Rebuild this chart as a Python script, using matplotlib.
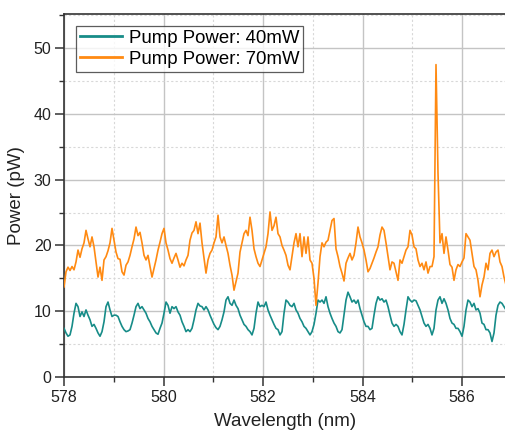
import numpy as np
import matplotlib
matplotlib.use("Agg")
import matplotlib.pyplot as plt
from matplotlib.ticker import MultipleLocator

plt.rcParams['font.family'] = ['Liberation Sans', 'DejaVu Sans']

# spectra sampled on a common wavelength grid (nm)
wl_start, wl_stop = 578.0, 586.88

# Pump Power: 40mW (pW)
p40 = [
    7.4, 6.7, 6.2, 6.4, 7.7, 9.7, 11.2, 10.7, 9.2, 9.9, 9.2, 10.2, 9.4, 8.7, 7.7, 8.0,
    7.4, 6.7, 6.2, 6.9, 8.4, 10.7, 11.4, 10.2, 9.2, 9.4, 9.4, 9.2, 8.4, 7.7, 7.2, 6.9,
    7.0, 7.2, 8.2, 9.4, 10.7, 11.2, 10.4, 10.7, 10.2, 9.7, 8.9, 8.4, 7.7, 7.2, 6.7, 6.5,
    7.4, 8.2, 9.7, 11.4, 10.9, 9.7, 10.7, 10.4, 10.7, 9.9, 9.4, 8.4, 7.7, 6.9, 7.2, 6.9,
    7.4, 8.7, 10.2, 11.2, 10.8, 10.7, 10.2, 10.7, 10.2, 9.4, 8.7, 8.0, 7.5, 7.2, 7.7, 8.7,
    9.9, 11.7, 12.2, 11.2, 10.9, 11.7, 10.9, 10.4, 9.4, 8.7, 8.0, 7.7, 7.2, 6.9, 6.4, 7.4,
    9.7, 11.4, 10.7, 10.9, 10.7, 11.4, 10.2, 9.4, 8.7, 8.0, 7.4, 7.2, 6.4, 6.9, 9.7, 11.7,
    11.4, 10.9, 10.7, 11.2, 10.2, 9.7, 8.9, 8.4, 7.7, 7.4, 6.9, 6.4, 6.9, 8.0, 9.7, 11.7,
    11.4, 11.7, 11.2, 12.2, 10.7, 9.7, 8.9, 8.2, 7.7, 6.9, 6.7, 7.2, 9.4, 11.7, 12.9, 12.2,
    11.4, 11.7, 11.2, 11.7, 10.4, 9.4, 8.4, 7.7, 7.7, 7.2, 7.4, 9.4, 11.2, 12.2, 11.7, 11.9,
    11.4, 11.7, 10.7, 9.4, 8.2, 7.7, 8.0, 7.7, 6.9, 6.4, 8.0, 10.2, 12.2, 11.7, 11.4, 11.7,
    11.6, 10.9, 10.2, 9.2, 8.2, 7.7, 8.0, 7.4, 6.4, 7.4, 10.2, 11.7, 12.2, 11.2, 11.9, 11.2,
    10.2, 8.9, 8.2, 8.0, 7.4, 7.4, 6.9, 6.2, 7.7, 10.2, 11.7, 11.4, 10.7, 11.2, 10.2, 10.4,
    9.7, 8.2, 8.0, 7.2, 7.2, 6.7, 5.4, 6.7, 9.4, 10.9, 11.4, 11.2, 10.7, 10.2,
]

# Pump Power: 70mW (pW)
p70 = [
    13.7, 16.0, 16.7, 16.2, 16.8, 16.3, 17.5, 19.3, 18.2, 19.5, 20.4, 22.3, 21.0, 19.8, 21.3, 19.8,
    17.5, 15.2, 16.7, 14.7, 17.8, 18.3, 19.2, 20.4, 22.6, 20.8, 19.0, 18.0, 17.9, 16.0, 15.5, 17.0,
    17.5, 18.5, 19.8, 21.0, 22.8, 21.5, 22.0, 20.4, 18.5, 17.8, 18.5, 16.8, 15.2, 16.5, 17.8, 19.3,
    20.5, 21.8, 22.6, 20.4, 19.3, 18.0, 17.3, 18.1, 18.8, 17.8, 16.7, 17.3, 16.9, 17.8, 18.5, 20.8,
    21.9, 22.3, 23.6, 21.8, 23.4, 20.4, 18.1, 15.8, 17.8, 18.8, 19.3, 20.4, 21.3, 24.6, 21.3, 20.4,
    21.3, 20.0, 18.8, 17.0, 15.5, 13.2, 14.5, 15.8, 19.0, 20.4, 21.8, 22.3, 21.5, 24.3, 22.3, 19.5,
    18.3, 17.3, 16.8, 17.8, 18.8, 19.8, 21.8, 25.1, 22.3, 23.0, 24.3, 21.8, 21.3, 20.0, 19.3, 18.5,
    17.0, 16.3, 18.3, 20.4, 21.8, 19.8, 21.8, 18.3, 21.3, 18.8, 21.3, 17.8, 17.3, 15.0, 10.9, 14.3,
    18.3, 20.4, 19.8, 20.5, 20.8, 22.3, 23.8, 24.1, 19.5, 18.3, 16.8, 15.8, 14.6, 17.3, 18.1, 18.8,
    17.8, 18.5, 20.4, 22.8, 21.3, 20.4, 19.3, 17.8, 16.0, 16.5, 17.3, 18.1, 19.0, 19.8, 21.6, 22.8,
    22.3, 20.4, 18.3, 16.3, 17.5, 17.3, 16.0, 14.7, 17.8, 17.3, 18.3, 19.3, 19.8, 22.3, 21.6, 19.8,
    19.5, 17.8, 16.8, 17.3, 16.3, 17.5, 15.8, 16.8, 16.8, 18.3, 47.5, 31.0, 20.4, 21.8, 18.8, 21.3,
    19.3, 17.1, 16.7, 14.7, 16.3, 17.1, 16.8, 17.5, 18.1, 21.8, 21.3, 20.8, 18.8, 16.8, 16.3, 14.7,
    12.2, 14.0, 15.2, 17.3, 16.3, 18.8, 19.3, 18.3, 19.0, 19.3, 17.5, 16.8, 15.2, 14.0,
]

labels = ['Pump Power: 40mW', 'Pump Power: 70mW']
colors = ['#178c88', '#ff8a12']

wl40 = np.linspace(wl_start, wl_stop, len(p40))
wl70 = np.linspace(wl_start, wl_stop, len(p70))

fig = plt.figure(figsize=(5.06, 4.33), dpi=100)
ax = fig.add_axes([0.1265, 0.1293, 0.8735, 0.8384])

ax.plot(wl40, p40, color=colors[0], lw=1.2, label=labels[0], zorder=3)
ax.plot(wl70, p70, color=colors[1], lw=1.2, label=labels[1], zorder=3)

ax.set_xlim(wl_start, wl_stop)
ax.set_ylim(0, 55.2)
ax.xaxis.set_major_locator(MultipleLocator(2))
ax.xaxis.set_minor_locator(MultipleLocator(1))
ax.yaxis.set_major_locator(MultipleLocator(10))
ax.yaxis.set_minor_locator(MultipleLocator(5))

ax.grid(which='major', color='#c4c4c4', lw=1.0, ls='-')
ax.grid(which='minor', color='#d8d8d8', lw=0.8, ls=(0, (2, 2)))
ax.set_axisbelow(True)

for side in ['left', 'bottom', 'top']:
    ax.spines[side].set_color('#333333')
    ax.spines[side].set_linewidth(1.2)
ax.spines['right'].set_visible(False)

ax.tick_params(which='both', top=False, right=False)
ax.tick_params(which='major', direction='out', length=6.5, width=1.1, color='#333333',
               labelsize=11.5, labelcolor='#222222', pad=2.5)
ax.tick_params(which='minor', direction='out', length=3.5, width=1.0, color='#333333')

ax.set_xlabel('Wavelength (nm)', fontsize=13.5, color='#222222', labelpad=6)
ax.set_ylabel('Power (pW)', fontsize=13.5, color='#222222', labelpad=6)

leg = ax.legend(loc='upper left', bbox_to_anchor=(0.027, 0.967), borderaxespad=0,
                fontsize=13.4, frameon=True, fancybox=False, handlelength=2.25,
                handletextpad=0.38, borderpad=0.2, labelspacing=0.22)
leg.get_frame().set_edgecolor('#333333')
leg.get_frame().set_linewidth(0.9)
for line in leg.get_lines():
    line.set_linewidth(2.0)

fig.savefig('out.png', dpi=100)
